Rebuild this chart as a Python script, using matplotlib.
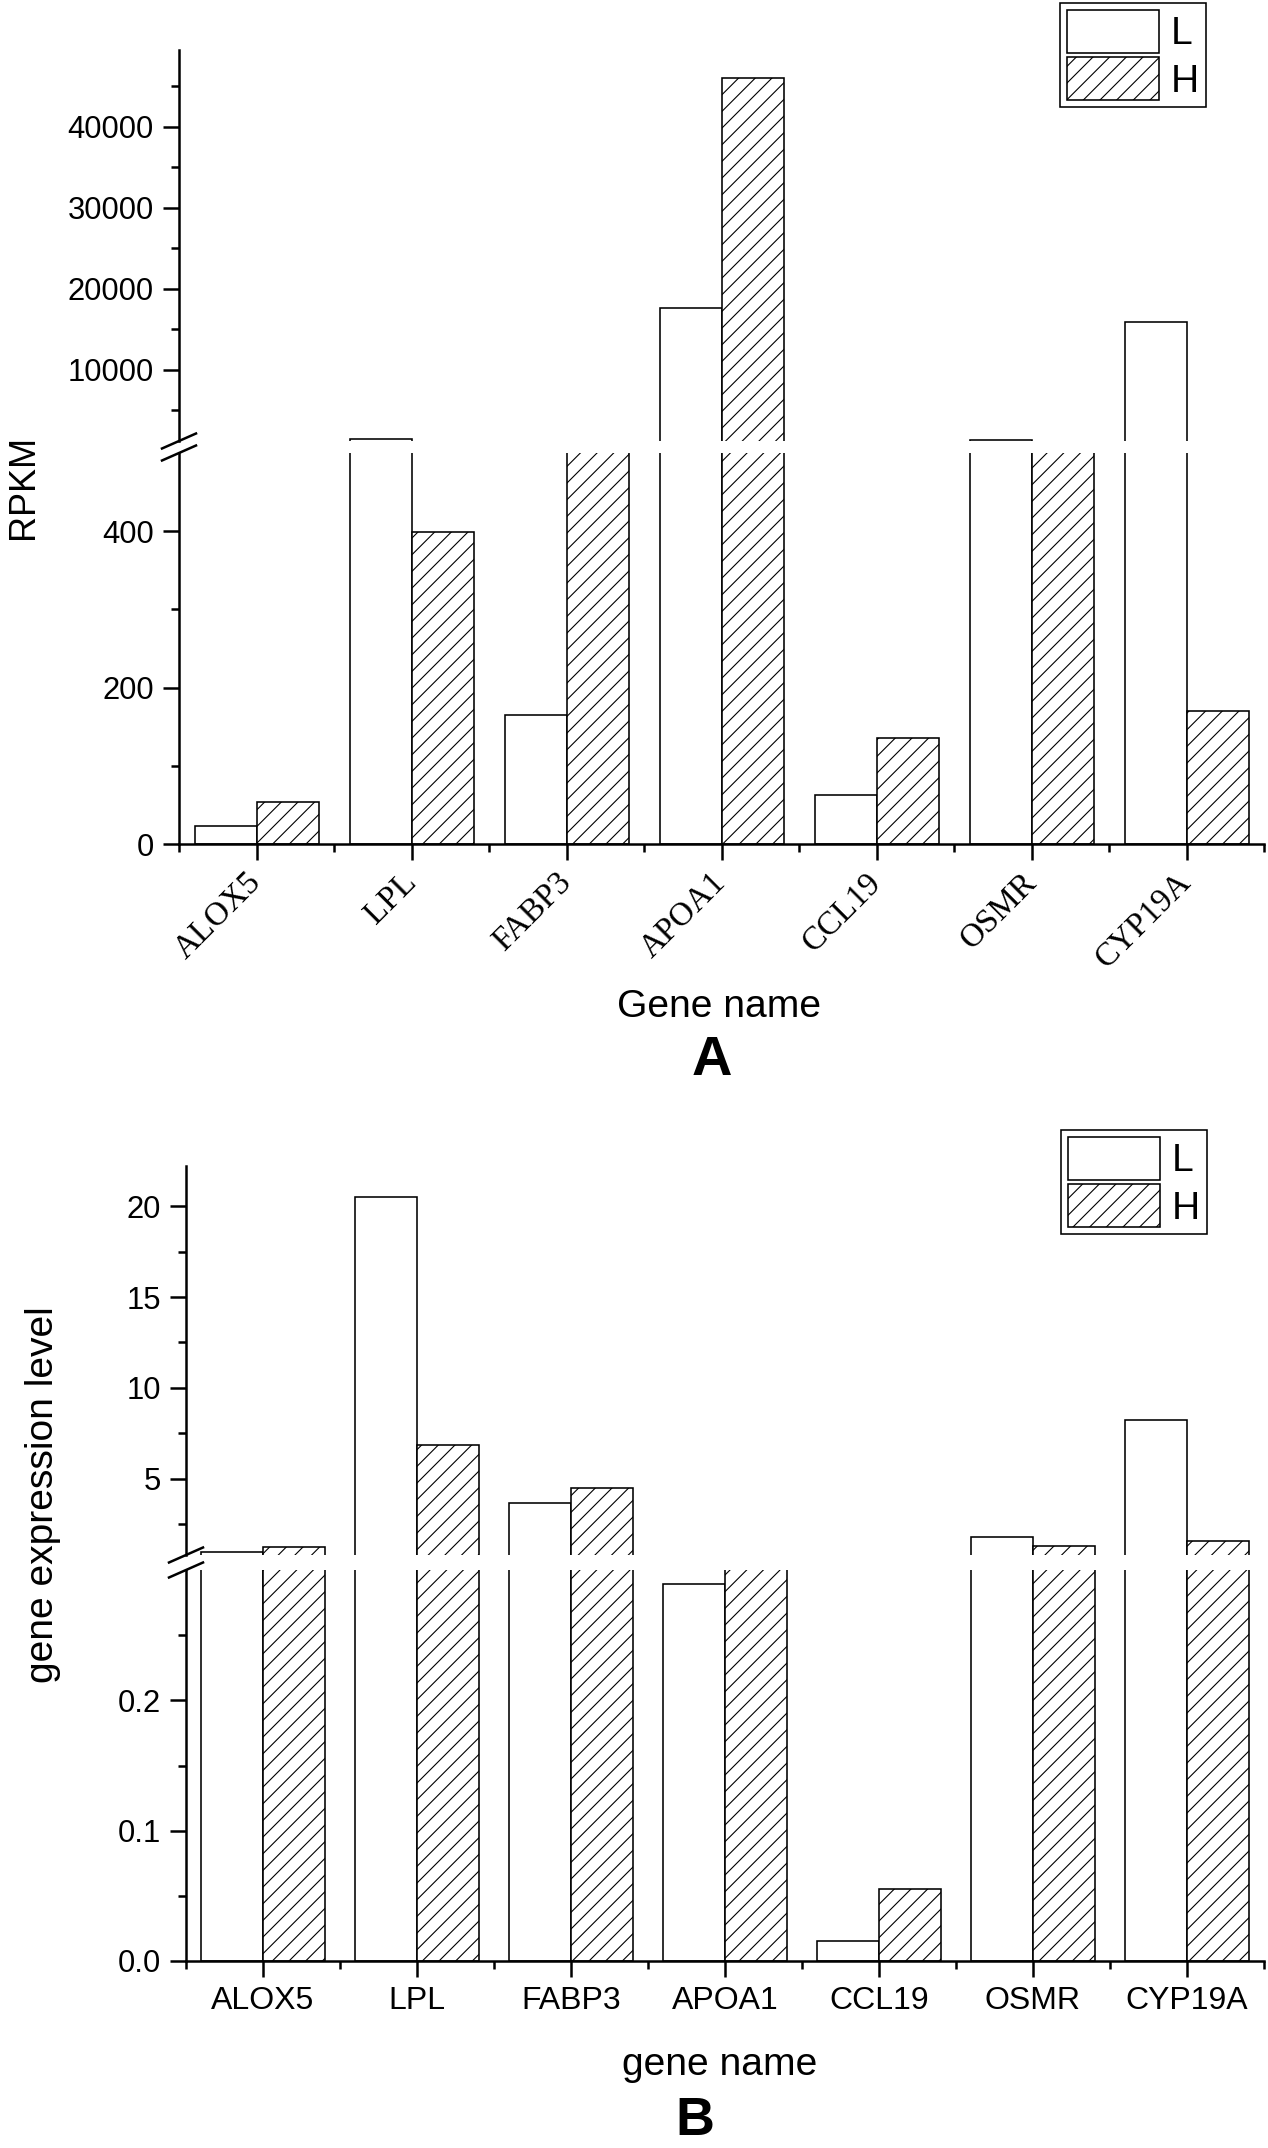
import matplotlib
matplotlib.use("Agg")
import matplotlib.pyplot as plt
import numpy as np
from matplotlib.lines import Line2D
from matplotlib.ticker import FixedLocator

# data
genes = ["ALOX5", "LPL", "FABP3", "APOA1", "CCL19", "OSMR", "CYP19A"]
rpkm_L = [23, 1450, 165, 17600, 63, 1400, 15900]
rpkm_H = [54, 399, 700, 46000, 135, 800, 170]
expr_L = [1.0, 20.5, 3.7, 0.289, 0.015, 1.83, 8.25]
expr_H = [1.26, 6.87, 4.48, 0.6, 0.055, 1.3, 1.6]

# broken axis segments: (limits, major ticks, minor ticks)
rpkm_upper = ((1235, 49500), [10000, 20000, 30000, 40000], [5000, 15000, 25000, 35000, 45000])
rpkm_lower = ((0, 500), [0, 200, 400], [100, 300])
expr_upper = ((0.82, 22.2), [5, 10, 15, 20], [2.5, 7.5, 12.5, 17.5])
expr_lower = ((0, 0.3), [0.0, 0.1, 0.2], [0.05, 0.15, 0.25])

W, H = 1268, 2148
DPI = 100


def pt(px):
    # pixel size -> points at the output dpi
    return px * 72 / DPI


fig = plt.figure(figsize=(W / DPI, H / DPI), dpi=DPI)
plt.rcParams["font.family"] = ["Liberation Sans", "DejaVu Sans"]
plt.rcParams["hatch.linewidth"] = 0.8

SPINE = pt(2.5)
NARROW = ["Liberation Sans Narrow", "Liberation Sans", "DejaVu Sans"]


def box(x0, x1, top, bottom):
    return [x0 / W, 1 - bottom / H, (x1 - x0) / W, (bottom - top) / H]


def draw_bars(ax, low, high):
    x = np.arange(len(genes))
    w = 0.4
    bl = ax.bar(x - w / 2, low, w, facecolor="white", edgecolor="black", linewidth=pt(1.6))
    bh = ax.bar(x + w / 2, high, w, facecolor="white", edgecolor="black",
                hatch="//", linewidth=pt(1.6))
    ax.set_xlim(-0.5, len(genes) - 0.5)
    ax.spines["top"].set_visible(False)
    ax.spines["right"].set_visible(False)
    for s in ("left", "bottom"):
        ax.spines[s].set_linewidth(SPINE)
    ax.tick_params(axis="both", which="major", direction="out", length=pt(16), width=SPINE,
                   labelsize=pt(31), pad=pt(9))
    ax.tick_params(axis="both", which="minor", direction="out", length=pt(8), width=SPINE)
    return bl, bh


def setup_y(ax, seg, fmt):
    lims, major, minor = seg
    ax.set_ylim(*lims)
    ax.yaxis.set_major_locator(FixedLocator(major))
    ax.yaxis.set_minor_locator(FixedLocator(minor))
    ax.set_yticklabels([fmt(v) for v in major])


def break_marks(ax_up, ax_lo):
    dx, dy = 17 / W, 7.5 / H
    for ax, y in ((ax_up, ax_up.get_position().y0), (ax_lo, ax_lo.get_position().y1)):
        x = ax.get_position().x0
        fig.add_artist(Line2D([x - dx, x + dx], [y - dy, y + dy], transform=fig.transFigure,
                              color="black", linewidth=SPINE))


def panel(box_up, box_lo, low, high, seg_up, seg_lo, fmt):
    ax_up = fig.add_axes(box_up)
    ax_lo = fig.add_axes(box_lo)
    bl, bh = draw_bars(ax_up, low, high)
    draw_bars(ax_lo, low, high)
    setup_y(ax_up, seg_up, fmt)
    setup_y(ax_lo, seg_lo, fmt)
    ax_up.spines["bottom"].set_visible(False)
    ax_up.tick_params(axis="x", which="both", bottom=False, labelbottom=False)
    ax_lo.set_xticks(np.arange(len(genes)))
    ax_lo.xaxis.set_minor_locator(FixedLocator(np.arange(len(genes) + 1) - 0.5))
    break_marks(ax_up, ax_lo)
    return ax_up, ax_lo, bl, bh


def legend(handles, x, top):
    leg = fig.legend(handles, ["L", "H"], loc="upper left", bbox_to_anchor=(x / W, 1 - top / H),
                     fontsize=pt(39), frameon=True, fancybox=False, framealpha=1,
                     edgecolor="black", handlelength=2.35, handleheight=1.3,
                     handletextpad=0.3, labelspacing=0.12, borderpad=0.18, borderaxespad=0)
    leg.get_frame().set_linewidth(pt(1.6))


# panel A
a_up, a_lo, bl, bh = panel(box(179, 1264, 50, 441), box(179, 1264, 453, 844),
                           rpkm_L, rpkm_H, rpkm_upper, rpkm_lower, lambda v: f"{v:d}")
a_lo.set_xticklabels(genes, rotation=45, ha="right", va="center", rotation_mode="anchor",
                     fontsize=pt(33), family=["Liberation Serif", "DejaVu Serif"])
a_lo.tick_params(axis="x", which="major", pad=pt(18))
legend([bl, bh], 1060, 3)
fig.text(23 / W, 1 - 487 / H, "RPKM", rotation=90, ha="center", va="center",
         fontsize=pt(36), family=NARROW)
fig.text(719 / W, 1 - 1007 / H, "Gene name", ha="center", va="center", fontsize=pt(39))
fig.text(712 / W, 1 - 1061 / H, "A", ha="center", va="center", fontsize=pt(56),
         fontweight="bold")

# panel B
b_up, b_lo, bl, bh = panel(box(186, 1264, 1166, 1555), box(186, 1264, 1570, 1961),
                           expr_L, expr_H, expr_upper, expr_lower,
                           lambda v: f"{v:g}" if v >= 1 else f"{v:.1f}")
b_lo.set_xticklabels(genes, fontsize=pt(32))
legend([bl, bh], 1061, 1130)
fig.text(43 / W, 1 - 1495 / H, "gene expression level", rotation=90, ha="center",
         va="center", fontsize=pt(39))
fig.text(720 / W, 1 - 2065 / H, "gene name", ha="center", va="center", fontsize=pt(39))
fig.text(695 / W, 1 - 2121 / H, "B", ha="center", va="center", fontsize=pt(54),
         fontweight="bold")

fig.savefig("out.png", dpi=DPI, facecolor="white")
